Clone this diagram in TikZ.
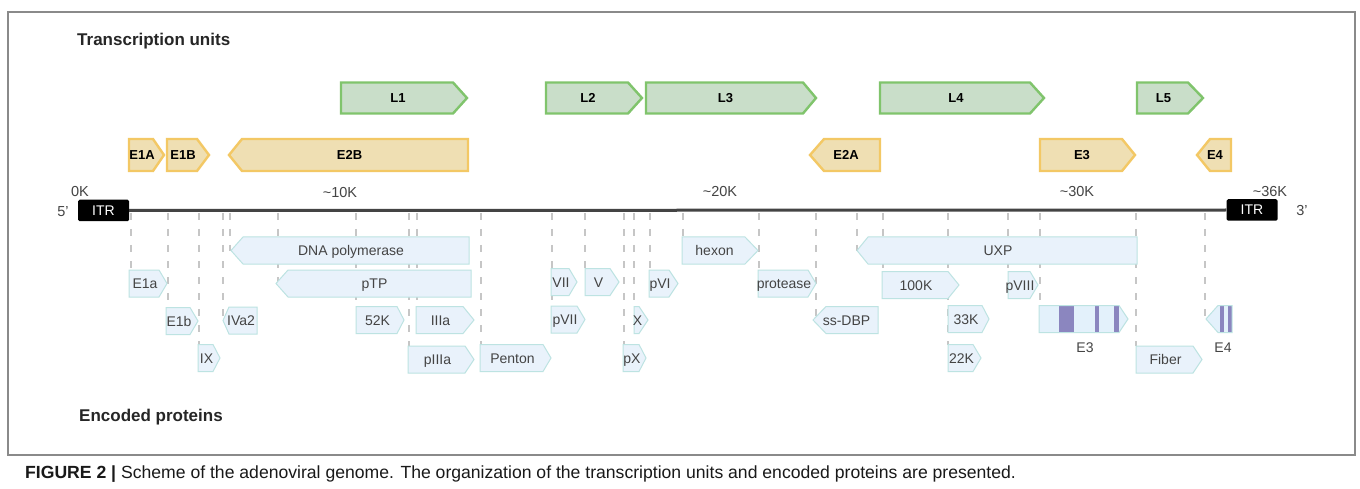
\documentclass[tikz,border=0pt]{standalone}
\usepackage{fontspec}
\setmainfont{Liberation Sans}
\definecolor{lgreen}{HTML}{80C46C}
\definecolor{lgreenfill}{HTML}{C9DEC9}
\definecolor{eyel}{HTML}{F3C865}
\definecolor{eyelfill}{HTML}{EFDFB3}
\definecolor{pborder}{HTML}{BDE3E2}
\definecolor{pfill}{HTML}{E9F2FB}
\definecolor{e3fill}{HTML}{E3F1FB}
\definecolor{purp}{HTML}{8B86BF}
\definecolor{dashgray}{HTML}{C6C6C6}
\definecolor{txtgray}{HTML}{444444}
\definecolor{framegray}{HTML}{8A8A8A}
\definecolor{genomegray}{HTML}{444444}
\tikzset{
  lunit/.style={draw=lgreen, fill=lgreenfill, line width=2.4pt, line join=miter},
  eunit/.style={draw=eyel, fill=eyelfill, line width=2.4pt, line join=miter},
  prot/.style={draw=pborder, fill=pfill, line width=1pt},
  ulabel/.style={font=\bfseries\fontsize{13}{15}\selectfont, text=black, inner sep=0pt, text height=9.3pt, text depth=0pt},
  plabel/.style={font=\fontsize{14}{16}\selectfont, text=txtgray, inner sep=0pt, text height=10pt, text depth=0pt},
  axlabel/.style={font=\fontsize{14.5}{16}\selectfont, text=txtgray, inner sep=0pt},
  heading/.style={font=\bfseries\fontsize{17}{19}\selectfont, text=black!85, inner sep=0pt, anchor=base west},
  dashline/.style={draw=dashgray, line width=1.5pt, dash pattern=on 7pt off 9pt},
  genome/.style={draw=genomegray, line width=3pt},
  itr/.style={fill=black, text=white, rounded corners=1.5pt, minimum width=51pt, minimum height=21.5pt, inner sep=0pt, font=\fontsize{14}{16}\selectfont},
}
% right-pointing: style, labelstyle, name, x1, xbody, xtip, yc, text
\newcommand{\RArr}[8]{%
  \path[#1] (#4,#7-\hh) -- (#5,#7-\hh) -- (#6,#7) -- (#5,#7+\hh) -- (#4,#7+\hh) -- cycle;
  \coordinate (#3-top) at (#4,#7-\hh);
  \coordinate (#3-tip) at (#6,#7);
  \node[#2] (#3) at ({(#4+#5)/2+1},#7) {#8};}
% left-pointing: style, labelstyle, name, xtip, xbody, xright, yc, text
\newcommand{\LArr}[8]{%
  \path[#1] (#4,#7) -- (#5,#7-\hh) -- (#6,#7-\hh) -- (#6,#7+\hh) -- (#5,#7+\hh) -- cycle;
  \coordinate (#3-top) at (#6,#7-\hh);
  \coordinate (#3-tip) at (#4,#7);
  \node[#2] (#3) at ({(#4+#6)/2+1},#7) {#8};}
\begin{document}
\begin{tikzpicture}[x=1pt,y=-1pt]
\useasboundingbox (0,0) rectangle (1360,489);
\fill[white] (0,0) rectangle (1360,489);
\draw[framegray, line width=1.5pt] (8,12) rectangle (1355,455);

\node[heading] (h1) at (77,46) {Transcription units};
\node[heading] (h2) at (79,421) {Encoded proteins};

% transcription units
\def\hh{15.5}
\RArr{lunit}{ulabel}{L1}{341}{453}{467}{98}{L1}
\RArr{lunit}{ulabel}{L2}{546}{628}{642}{98}{L2}
\RArr{lunit}{ulabel}{L3}{646}{803}{816}{98}{L3}
\RArr{lunit}{ulabel}{L4}{880}{1030}{1044}{98}{L4}
\RArr{lunit}{ulabel}{L5}{1137}{1188}{1203}{98}{L5}
\def\hh{16}
\RArr{eunit}{ulabel}{E1A}{129}{153}{164}{155}{E1A}
\RArr{eunit}{ulabel}{E1B}{167}{197}{209}{155}{E1B}
\LArr{eunit}{ulabel}{E2B}{229}{242}{468}{155}{E2B}
\LArr{eunit}{ulabel}{E2A}{810}{824}{880}{155}{E2A}
\RArr{eunit}{ulabel}{E3u}{1040}{1122}{1135}{155}{E3}
\LArr{eunit}{ulabel}{E4u}{1197}{1210}{1231}{155}{E4}

% axis labels
\node[axlabel] (k0) at (80,192) {0K};
\node[axlabel] (k10) at (340,193) {\textasciitilde10K};
\node[axlabel] (k20) at (720,192) {\textasciitilde20K};
\node[axlabel] (k30) at (1077,192) {\textasciitilde30K};
\node[axlabel] (k36) at (1270,192) {\textasciitilde36K};
\node[axlabel] (p5) at (63,212) {5'};
\node[axlabel] (p3) at (1302,211) {3'};

% genome
\node[itr] (itrL) at (103.5,210.5) {ITR};
\node[itr] (itrR) at (1252,210) {ITR};
\draw[genome] (itrL.east) -- (itrR.west);

\def\hh{13.5}
% target points of the dashed connectors
\coordinate (E1a-top) at (129,270);
\coordinate (E1b-top) at (166,307);
\coordinate (IX-top) at (198,344);
\coordinate (IVa2-tip) at (223,320);
\coordinate (DNApol-tip) at (231,250.5);
\coordinate (pTP-tip) at (276,283.5);
\coordinate (k52-top) at (356,306.5);
\coordinate (pIIIa-top) at (408,346);
\coordinate (IIIa-top) at (416,306.5);
\coordinate (Penton-top) at (480,344.5);
\coordinate (pVII-top) at (551,306);
\coordinate (V-top) at (585,270);
\coordinate (pX-top) at (623,344.5);
\coordinate (X-top) at (634,306.5);
\coordinate (pVI-top) at (649,270);
\coordinate (hexon-top) at (682,237);
\coordinate (protease-top) at (758,270);
\coordinate (ssDBP-tip) at (813,320);
\coordinate (UXP-tip) at (857,250.5);
\coordinate (k100-top) at (882,271.5);
\coordinate (k22-top) at (948,344.5);
\coordinate (pVIII-top) at (1008,271.5);
\coordinate (E3p-top) at (1039,305.5);
\coordinate (Fiber-top) at (1136,346);
\coordinate (E4p-tip) at (1206,319);

\foreach \gx/\tg in {131/E1a-top,168/E1b-top,199/IX-top,223/IVa2-tip,230/DNApol-tip,278/pTP-tip,356/k52-top,409/pIIIa-top,417/IIIa-top,481/Penton-top,552/pVII-top,585/V-top,624/pX-top,634/X-top,650/pVI-top,683/hexon-top,759/protease-top,816/ssDBP-tip,857/UXP-tip,883/k100-top,948/k22-top,1008/pVIII-top,1040/E3p-top,1136/Fiber-top,1205/E4p-tip}{
  \coordinate (g\gx) at (\gx,213);
  \draw[dashline] (g\gx) -- (g\gx |- \tg);
}

% row A
\LArr{prot}{plabel}{DNApol}{231}{243}{469}{250.5}{DNA polymerase}
\RArr{prot}{plabel}{hexon}{682}{745}{758}{250.5}{hexon}
\LArr{prot}{plabel}{UXP}{857}{868}{1137}{250.5}{UXP}
% row B
\RArr{prot}{plabel}{E1a}{129}{159}{167}{283.5}{E1a}
\LArr{prot}{plabel}{pTP}{276}{288}{471}{283.5}{pTP}
\RArr{prot}{plabel}{VII}{551}{569}{577}{282}{VII}
\RArr{prot}{plabel}{V}{585}{610}{619}{282}{V}
\RArr{prot}{plabel}{pVI}{649}{669}{678}{283.5}{pVI}
\RArr{prot}{plabel}{protease}{758}{808}{816}{283.5}{protease}
\RArr{prot}{plabel}{k100}{882}{948}{959}{285}{100K}
\RArr{prot}{plabel}{pVIII}{1008}{1030}{1038}{285}{pVIII}
% row C
\RArr{prot}{plabel}{E1b}{166}{190}{198}{321}{E1b}
\LArr{prot}{plabel}{IVa2}{223}{229}{257}{320.5}{IVa2}
\RArr{prot}{plabel}{k52}{356}{397}{404}{320}{52K}
\RArr{prot}{plabel}{IIIa}{416}{463}{474}{320}{IIIa}
\RArr{prot}{plabel}{pVII}{551}{577}{585}{319.5}{pVII}
\RArr{prot}{plabel}{X}{634}{639}{648}{320}{X}
\LArr{prot}{plabel}{ssDBP}{813}{826}{878}{320}{ss-DBP}
\RArr{prot}{plabel}{k33}{948}{982}{989}{319}{33K}
% E3 special
\path[fill=e3fill] (1039,305.5) -- (1119,305.5) -- (1128,319) -- (1119,332.5) -- (1039,332.5) -- cycle;
\fill[purp] (1059,305.5) rectangle (1074,332.5);
\fill[purp] (1095,305.5) rectangle (1099,332.5);
\fill[purp] (1114,305.5) rectangle (1119,332.5);
\draw[pborder, line width=1pt] (1039,305.5) -- (1119,305.5) -- (1128,319) -- (1119,332.5) -- (1039,332.5) -- cycle;
\node[plabel] (E3lab) at (1085,347) {E3};
% E4 special
\path[fill=e3fill] (1206,319) -- (1218,305.5) -- (1232,305.5) -- (1232,332.5) -- (1218,332.5) -- cycle;
\fill[purp] (1220,305.5) rectangle (1224,332.5);
\fill[purp] (1228,305.5) rectangle (1232,332.5);
\draw[pborder, line width=1pt] (1206,319) -- (1218,305.5) -- (1232,305.5) -- (1232,332.5) -- (1218,332.5) -- cycle;
\node[plabel] (E4lab) at (1223,347) {E4};
% row D
\RArr{prot}{plabel}{IX}{198}{213}{220}{358}{IX}
\RArr{prot}{plabel}{pIIIa}{408}{465}{474}{359.5}{pIIIa}
\RArr{prot}{plabel}{Penton}{480}{543}{551}{358}{Penton}
\RArr{prot}{plabel}{pX}{623}{639}{646}{358}{pX}
\RArr{prot}{plabel}{k22}{948}{973}{981}{358}{22K}
\RArr{prot}{plabel}{Fiber}{1136}{1193}{1202}{359.5}{Fiber}

% caption
\node[anchor=base west, inner sep=0pt, font=\fontsize{17.6}{19}\selectfont, text=black!90] (cap) at (25,478)
  {\textbf{FIGURE 2 |} Scheme of the adenoviral genome. The organization of the transcription units and encoded proteins are presented.};
\end{tikzpicture}
\end{document}
